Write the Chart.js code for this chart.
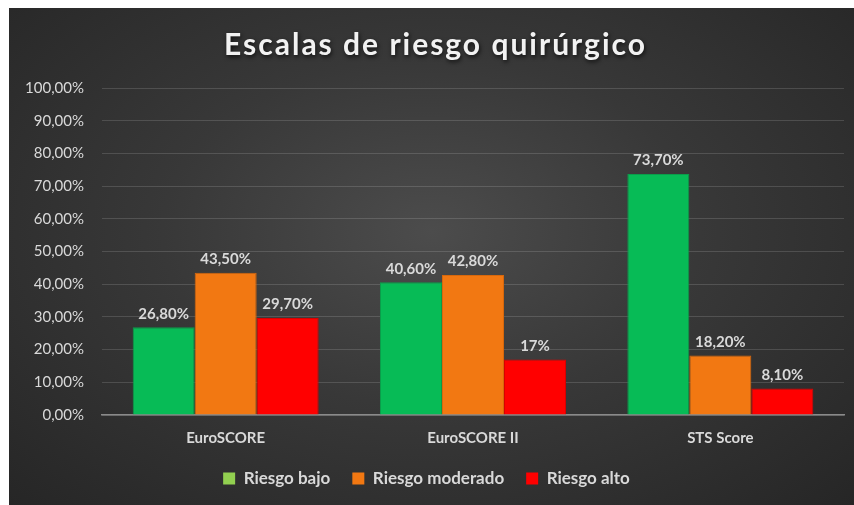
<!DOCTYPE html>
<html>
<head>
<meta charset="utf-8">
<script src="https://cdn.jsdelivr.net/npm/chart.js@4"></script>
<style>
  html, body { margin: 0; padding: 0; background: #fff; }
  #wrap {
    position: absolute; left: 9px; top: 8px; width: 845px; height: 497px;
    background: radial-gradient(ellipse at 50% 45%, #4c4c4c 0%, #383838 45%, #262626 100%);
  }
</style>
</head>
<body>
<div id="wrap"><canvas id="chart" width="845" height="497"></canvas></div>
<script>
// Datos del gráfico
const categorias = ["EuroSCORE", "EuroSCORE II", "STS Score"];
const riesgoBajo = [26.8, 40.6, 73.7];
const riesgoModerado = [43.5, 42.8, 18.2];
const riesgoAlto = [29.7, 17, 8.1];
const nombresSeries = ["Riesgo bajo", "Riesgo moderado", "Riesgo alto"];
const titulo = "Escalas de riesgo quirúrgico";

const colorTexto = "#d9d9d9";
const fuente = "Lato, 'Open Sans', sans-serif";

function formatoPct(v, fijo) {
    if (!fijo && Number.isInteger(v)) return v + "%";
    return v.toFixed(2).replace(".", ",") + "%";
}

// Título con sombra y espaciado
const tituloPlugin = {
    id: "tituloPlugin",
    afterDraw(chart) {
        const ctx = chart.ctx;
        ctx.save();
        ctx.font = "bold 30px " + fuente;
        ctx.letterSpacing = "2px";
        ctx.fillStyle = "#f2f2f2";
        ctx.textAlign = "center";
        ctx.textBaseline = "middle";
        ctx.shadowColor = "rgba(0,0,0,0.7)";
        ctx.shadowBlur = 4;
        ctx.shadowOffsetX = 1;
        ctx.shadowOffsetY = 2;
        ctx.fillText(titulo, chart.width / 2 + 4, 37);
        ctx.restore();
    }
};

// Etiquetas de datos encima de cada barra
const etiquetasPlugin = {
    id: "etiquetasPlugin",
    afterDatasetsDraw(chart) {
        const ctx = chart.ctx;
        ctx.save();
        ctx.font = "bold 15px " + fuente;
        ctx.fillStyle = colorTexto;
        ctx.textAlign = "center";
        ctx.textBaseline = "bottom";
        chart.data.datasets.forEach((ds, i) => {
            const meta = chart.getDatasetMeta(i);
            meta.data.forEach((bar, j) => {
                ctx.fillText(formatoPct(ds.data[j], false), bar.x, bar.y - 6);
            });
        });
        ctx.restore();
    }
};

const coloresBarras = ["#07bb56", "#f27812", "#ff0000"];
const bordesBarras = ["#0a9d4a", "#d8680c", "#d80000"];
const coloresLeyenda = ["#92d050", "#f27812", "#ff0000"];

new Chart(document.getElementById("chart").getContext("2d"), {
    type: "bar",
    data: {
        labels: categorias,
        datasets: [riesgoBajo, riesgoModerado, riesgoAlto].map((d, i) => ({
            label: nombresSeries[i],
            data: d,
            backgroundColor: coloresBarras[i],
            borderColor: bordesBarras[i],
            borderWidth: 1,
            barPercentage: 1,
            categoryPercentage: 0.752
        }))
    },
    options: {
        responsive: false,
        animation: false,
        layout: { padding: { top: 80, right: 10, left: 0, bottom: 8 } },
        plugins: {
            title: { display: false },
            tooltip: { enabled: false },
            legend: {
                position: "bottom",
                labels: {
                    color: colorTexto,
                    font: { family: fuente, size: 17, weight: "bold" },
                    boxWidth: 12,
                    boxHeight: 12,
                    padding: 22,
                    generateLabels: chart => chart.data.datasets.map((ds, i) => ({
                        text: ds.label,
                        fillStyle: coloresLeyenda[i],
                        strokeStyle: coloresLeyenda[i],
                        lineWidth: 0,
                        fontColor: colorTexto,
                        datasetIndex: i
                    }))
                }
            }
        },
        scales: {
            x: {
                afterFit: scale => { scale.height = scale.height - 13; },
                grid: { display: false, drawTicks: false },
                border: { color: "#8a8a8a", width: 1.5 },
                ticks: {
                    color: colorTexto,
                    padding: 14,
                    font: { family: fuente, size: 15, weight: "bold" }
                }
            },
            y: {
                min: 0,
                max: 100,
                afterFit: scale => { scale.width = 93; },
                grid: { color: "rgba(255,255,255,0.14)", drawTicks: false },
                border: { display: false },
                ticks: {
                    stepSize: 10,
                    padding: 18,
                    color: colorTexto,
                    font: { family: fuente, size: 15 },
                    callback: v => formatoPct(v, true)
                }
            }
        }
    },
    plugins: [tituloPlugin, etiquetasPlugin]
});
</script>
</body>
</html>
